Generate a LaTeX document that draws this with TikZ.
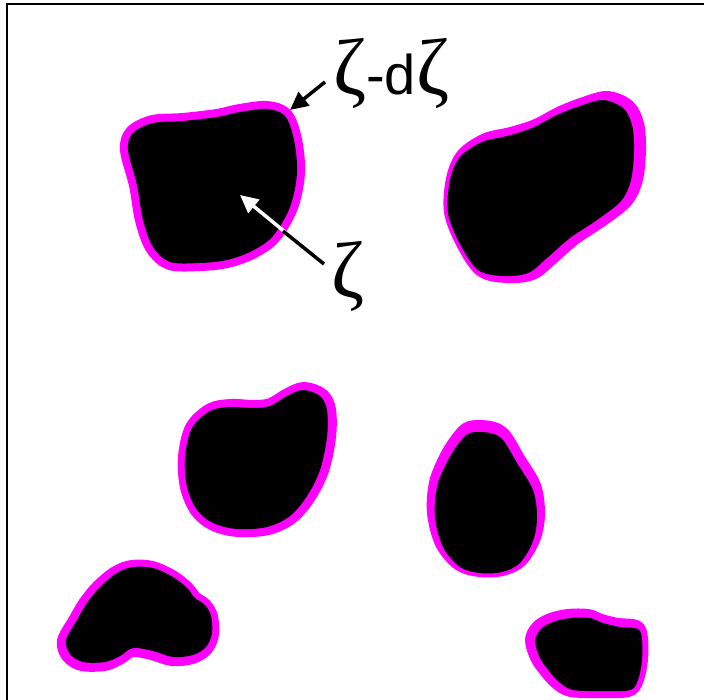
\documentclass[tikz,border=0pt]{standalone}
\usepackage{fontspec}
\setmainfont{Liberation Sans}
\newfontfamily\zetafont{Liberation Serif}
\usetikzlibrary{arrows.meta}
\definecolor{mag}{RGB}{255,0,255}
\tikzset{
  rim/.style={fill=mag, draw=mag, line width=16pt, line join=round},
  core/.style={fill=black},
  lbl/.style={inner sep=0pt, anchor=base west, font=\fontsize{56}{56}\selectfont},
  pointer/.style={line width=3.5pt, -{Triangle[length=18pt,width=17pt]}},
}
\newcommand{\zt}{{\zetafont\fontsize{80}{80}\selectfont ζ}}
\begin{document}
\begin{tikzpicture}[x=1pt,y=-1pt]
\useasboundingbox (0,0) rectangle (704,700);
\fill[white] (0,0) rectangle (704,700);
% frame
\draw[line width=2pt] (7,702) -- (7,4) -- (706,4);

% blob 1 (top-left)
\def\blobA{(153,123) (183,121) (217,117) (240,112) (267,109) (285,116) (294,140) (297,173) (290,207) (273,236) (252,251) (227,260) (200,263) (170,262) (153,247) (143,220) (137,185) (128,150) (133,133)}
\filldraw[rim] plot[smooth cycle, tension=0.55] coordinates {\blobA};
\fill[core] plot[smooth cycle, tension=0.55] coordinates {\blobA};

% blob 2 (top-right)
\def\blobB{(580,106) (603,100) (623,108) (632,125) (634,150) (631,180) (621,201) (597,220) (570,238) (547,258) (528,273) (503,276) (478,270) (460,244) (448,213) (450,180) (460,157) (482,142) (507,136) (532,128) (557,115)}
\begin{scope}[shift={(4,-1)}]
\filldraw[rim] plot[smooth cycle, tension=0.55] coordinates {\blobB};
\end{scope}
\fill[core] plot[smooth cycle, tension=0.55] coordinates {\blobB};

% blob 3 (middle-left)
\def\blobC{(210,411) (192,428) (185,457) (187,487) (197,510) (213,523) (237,529) (267,527) (290,516) (307,496) (320,470) (327,437) (327,410) (320,396) (303,390) (287,396) (270,406) (253,408) (230,407)}
\begin{scope}[shift={(1,0)}]
\filldraw[rim] plot[smooth cycle, tension=0.55] coordinates {\blobC};
\end{scope}
\fill[core] plot[smooth cycle, tension=0.55] coordinates {\blobC};

% blob 4 (middle-right egg)
\def\blobD{(470,433) (490,433) (503,440) (517,463) (533,490) (537,517) (533,541) (520,563) (502,572) (480,573) (460,567) (443,547) (435,517) (437,487) (447,462) (459,443)}
\begin{scope}[shift={(0,-4)}]
\filldraw[rim] plot[smooth cycle, tension=0.55] coordinates {\blobD};
\end{scope}
\fill[core] plot[smooth cycle, tension=0.55] coordinates {\blobD};

% blob 5 (bottom-left)
\def\blobE{(66,640) (77,620) (87,603) (100,587) (117,573) (133,567) (153,568) (173,577) (187,588) (195,598) (205,605) (211,616) (212,633) (206,647) (193,655) (173,657) (153,651) (133,648) (120,656) (105,662) (83,662) (70,654)}
\begin{scope}[shift={(-1,1)}]
\filldraw[rim] plot[smooth cycle, tension=0.55] coordinates {\blobE};
\end{scope}
\fill[core] plot[smooth cycle, tension=0.55] coordinates {\blobE};

% blob 6 (bottom-right)
\def\blobF{(535,641) (541,629) (553,622) (570,618) (590,618) (603,623) (620,627) (638,629) (642,640) (642,660) (638,680) (630,690) (603,691) (573,690) (559,682) (549,671) (540,658)}
\begin{scope}[shift={(-2,-1)}]
\filldraw[rim] plot[smooth cycle, tension=0.55] coordinates {\blobF};
\end{scope}
\fill[core] plot[smooth cycle, tension=0.55] coordinates {\blobF};

% labels
\node[lbl] (outer) at (333,95) {\zt-d\zt};
\node[lbl] (inner) at (331,298) {\zt};

% arrows
\coordinate (tipA) at (290,110);
\coordinate (tailA) at (325,82);
\draw[pointer] (tailA) -- (tipA);

\coordinate (tipB) at (240,195);
\coordinate (tailB) at (324,264);
\coordinate (crossB) at (283,231);
\draw[pointer, white] (tailB) -- (tipB);
\draw[line width=3.5pt, black] (tailB) -- (crossB);
\end{tikzpicture}
\end{document}
